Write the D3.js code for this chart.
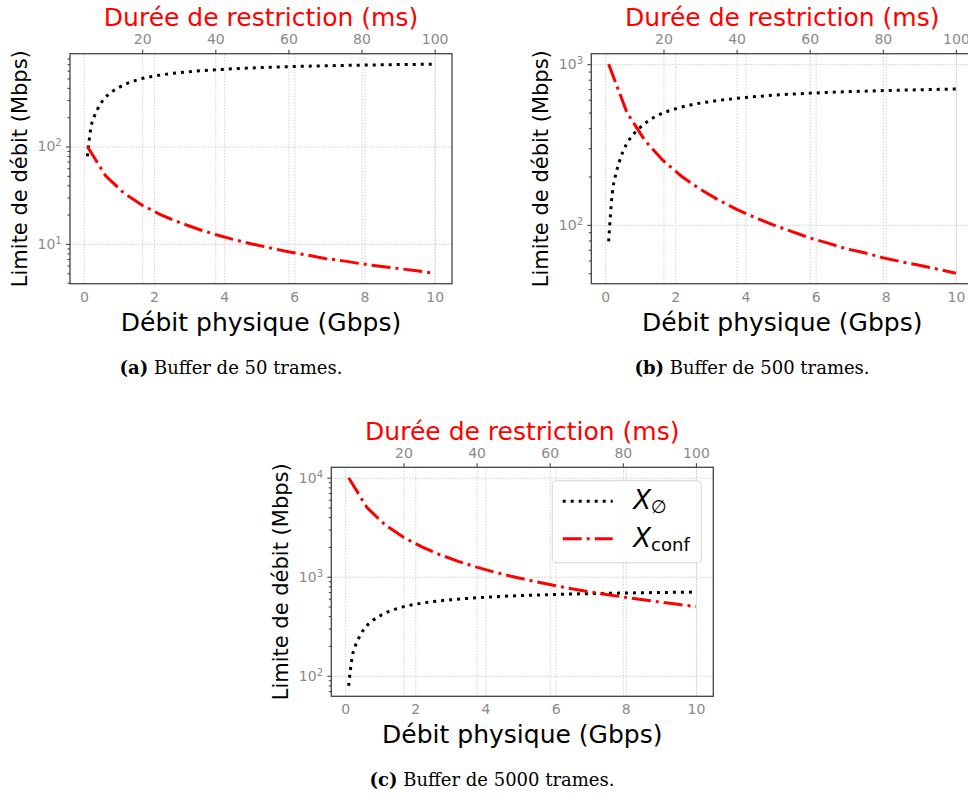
<!DOCTYPE html>
<html>
<head>
<meta charset="utf-8">
<script src="https://cdn.jsdelivr.net/npm/d3@7"></script>
<style>
  body { margin: 0; background: #fff; }
  svg text { font-family: "DejaVu Sans", sans-serif; }
  .grid line { stroke: #cfcfcf; stroke-width: 1; stroke-dasharray: 1.5,1.5; }
  .grid path { display: none; }
  .ax path { stroke: none; }
  .ax line { stroke: #444; stroke-width: 1.1; }
  .ax text { fill: #8a8a8a; font-size: 14px; }
</style>
</head>
<body>
<script>
// Débit physique (Gbps)
var physRate = [0.1, 0.2, 0.3, 0.4, 0.5, 0.6, 0.8, 1, 1.25, 1.5, 2, 2.5, 3, 4, 5, 6, 7, 8, 9, 10];
// X_vide (Mbps), same in the three buffers
var xEmpty = [79, 155, 205, 245, 283, 315, 365, 404, 446, 480, 527, 561, 585, 620, 645, 662, 675, 685, 693, 700];

// Durée de restriction (ms)
var restrictDur = [5, 10, 15, 20, 25, 30, 35, 40, 45, 50, 55, 60, 65, 70, 75, 80, 85, 90, 95, 100];
// X_conf (Mbps) per buffer size
var xConf50 = [100, 50, 33.3, 25, 20, 16.7, 14.3, 12.5, 11.1, 10, 9.1, 8.3, 7.7, 7.1, 6.7, 6.25, 5.9, 5.6, 5.3, 5];
var xConf500 = [1000, 500, 333, 250, 200, 167, 143, 125, 111, 100, 91, 83, 77, 71, 67, 62.5, 59, 56, 53, 50];
var xConf5000 = [10000, 5000, 3333, 2500, 2000, 1667, 1429, 1250, 1111, 1000, 909, 833, 769, 714, 667, 625, 588, 556, 526, 500];

var bottomTicks = [0, 2, 4, 6, 8, 10];
var topTicks = [20, 40, 60, 80, 100];
var captionTags = ["(a)", "(b)", "(c)"];
var captionTexts = [" Buffer de 50 trames.", " Buffer de 500 trames.", " Buffer de 5000 trames."];
var legendNames = [["X", "\u2205"], ["X", "conf"]];

var outerWidth = 968;
var outerHeight = 796;
var plotWidth = 382;

var svg = d3
  .select("body")
  .append("svg")
  .attr("width", outerWidth)
  .attr("height", outerHeight);

svg.append("rect").attr("width", outerWidth).attr("height", outerHeight).attr("fill", "#fff");

// matplotlib style 5% margins
function padLinear(ext) {
  var m = (ext[1] - ext[0]) * 0.05;
  return [ext[0] - m, ext[1] + m];
}
function padLog(ext) {
  var lo = Math.log10(ext[0]), hi = Math.log10(ext[1]);
  var m = (hi - lo) * 0.05;
  return [Math.pow(10, lo - m), Math.pow(10, hi + m)];
}

var panels = [
  { left: 70, top: 53.7, height: 230, conf: xConf50, capX: 231, capY: 374 },
  { left: 591.3, top: 53.7, height: 230, conf: xConf500, capX: 752, capY: 374 },
  { left: 331.3, top: 467.3, height: 229, conf: xConf5000, capX: 492, capY: 786, legend: true }
];

panels.forEach(function (p, idx) {
  var w = plotWidth, h = p.height;
  var g = svg.append("g").attr("transform", "translate(" + p.left + "," + p.top + ")");

  var xScale = d3.scaleLinear().domain(padLinear(d3.extent(physRate))).range([0, w]);
  var xTopScale = d3.scaleLinear().domain(padLinear(d3.extent(restrictDur))).range([0, w]);
  var yScale = d3.scaleLog().domain(padLog(d3.extent(xEmpty.concat(p.conf)))).range([h, 0]);

  var dom = yScale.domain();
  var majors = [], minors = [];
  for (var e = Math.floor(Math.log10(dom[0])); e <= Math.ceil(Math.log10(dom[1])); e++) {
    for (var k = 1; k < 10; k++) {
      var v = k * Math.pow(10, e);
      if (v < dom[0] || v > dom[1]) continue;
      if (k === 1) majors.push(v); else minors.push(v);
    }
  }

  // grid lines
  g.append("g").attr("class", "grid")
    .attr("transform", "translate(0," + h + ")")
    .call(d3.axisBottom(xScale).tickValues(bottomTicks).tickSize(-h).tickFormat(""));
  g.append("g").attr("class", "grid")
    .call(d3.axisTop(xTopScale).tickValues(topTicks).tickSize(-h).tickFormat(""));
  g.append("g").attr("class", "grid")
    .call(d3.axisLeft(yScale).tickValues(majors).tickSize(-w).tickFormat(""));

  // curves
  var clipId = "clip" + idx;
  g.append("clipPath").attr("id", clipId)
    .append("rect").attr("width", w).attr("height", h);

  var emptyLine = d3.line()
    .x(function (d, i) { return xScale(physRate[i]); })
    .y(function (d) { return yScale(d); })
    .curve(d3.curveMonotoneX);
  var confLine = d3.line()
    .x(function (d, i) { return xTopScale(restrictDur[i]); })
    .y(function (d) { return yScale(d); });

  g.append("path")
    .attr("clip-path", "url(#" + clipId + ")")
    .attr("d", emptyLine(xEmpty))
    .attr("fill", "none")
    .attr("stroke", "#000")
    .attr("stroke-width", 3)
    .attr("stroke-dasharray", "3,5");
  g.append("path")
    .attr("clip-path", "url(#" + clipId + ")")
    .attr("d", confLine(p.conf))
    .attr("fill", "none")
    .attr("stroke", "#ff0000")
    .attr("stroke-width", 3)
    .attr("stroke-dasharray", "19,5,3,5");

  // frame
  g.append("rect")
    .attr("width", w).attr("height", h)
    .attr("fill", "none").attr("stroke", "#444").attr("stroke-width", 1.3);

  // axes
  g.append("g").attr("class", "ax")
    .attr("transform", "translate(0," + h + ")")
    .call(d3.axisBottom(xScale).tickValues(bottomTicks).tickSize(0).tickPadding(8));
  g.append("g").attr("class", "ax")
    .call(d3.axisTop(xTopScale).tickValues(topTicks).tickSize(4).tickPadding(5.5));
  g.append("g").attr("class", "ax")
    .call(d3.axisLeft(yScale).tickValues(minors).tickSize(2.5).tickFormat(""));
  var yAx = g.append("g").attr("class", "ax")
    .call(d3.axisLeft(yScale).tickValues(majors).tickSize(4).tickPadding(4.3).tickFormat(""));
  yAx.selectAll(".tick text").each(function (d) {
    var t = d3.select(this);
    t.append("tspan").text("10");
    t.append("tspan").attr("dy", "-0.5em").attr("font-size", "10px").text(Math.round(Math.log10(d)));
  });

  // labels
  g.append("text")
    .attr("x", w / 2).attr("y", -27.5)
    .attr("text-anchor", "middle")
    .attr("font-size", 25).attr("fill", "#ff0000")
    .text("Durée de restriction (ms)");
  g.append("text")
    .attr("x", w / 2).attr("y", h + 47)
    .attr("text-anchor", "middle")
    .attr("font-size", 25).attr("fill", "#000")
    .text("Débit physique (Gbps)");
  g.append("text")
    .attr("transform", "translate(-43," + h / 2 + ") rotate(-90)")
    .attr("text-anchor", "middle")
    .attr("font-size", 21).attr("fill", "#000")
    .text("Limite de débit (Mbps)");

  if (p.legend) {
    var lg = g.append("g").attr("transform", "translate(221,13.4)");
    lg.append("rect")
      .attr("width", 149).attr("height", 82).attr("rx", 4)
      .attr("fill", "#fff").attr("fill-opacity", 0.8)
      .attr("stroke", "#d8d8d8").attr("stroke-width", 1);
    var styles = [["#000", "3,5"], ["#ff0000", "19,5,3,5"]];
    legendNames.forEach(function (nm, i) {
      var yy = 20.6 + i * 37.4;
      lg.append("line")
        .attr("x1", 10.4).attr("x2", 60.4).attr("y1", yy).attr("y2", yy)
        .attr("stroke", styles[i][0]).attr("stroke-width", 3)
        .attr("stroke-dasharray", styles[i][1]);
      var t = lg.append("text")
        .attr("x", 81).attr("y", yy + 8).attr("font-size", 26).attr("fill", "#000");
      t.append("tspan").attr("font-style", "italic").text(nm[0]);
      t.append("tspan").attr("dy", 4).attr("font-size", 18).text(nm[1]);
    });
  }

  // caption
  var cap = svg.append("text")
    .attr("x", p.capX).attr("y", p.capY)
    .attr("text-anchor", "middle")
    .style("font-family", "'DejaVu Serif', serif")
    .attr("font-size", 18).attr("fill", "#000");
  cap.append("tspan").attr("font-weight", "bold").text(captionTags[idx]);
  cap.append("tspan").text(captionTexts[idx]);
});
</script>
</body>
</html>
